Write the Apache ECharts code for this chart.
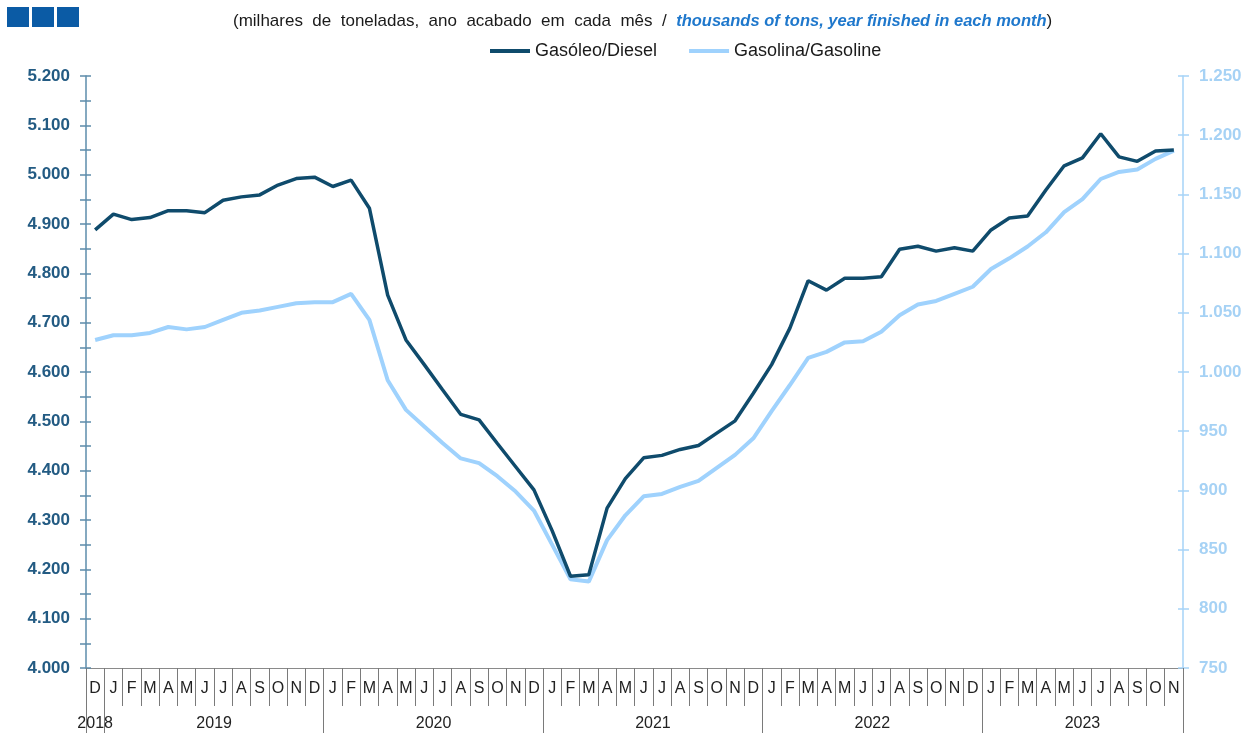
<!DOCTYPE html>
<html>
<head>
<meta charset="utf-8">
<script src="https://cdn.jsdelivr.net/npm/echarts@6/dist/echarts.min.js"></script>
<style>
  html, body { margin: 0; padding: 0; background: #fff; }
  #chart { width: 1246px; height: 733px; }
</style>
</head>
<body>
<div id="chart"></div>
<script>
// meses de dez/2018 a nov/2023
const monthLetters = ['D',
  'J', 'F', 'M', 'A', 'M', 'J', 'J', 'A', 'S', 'O', 'N', 'D',
  'J', 'F', 'M', 'A', 'M', 'J', 'J', 'A', 'S', 'O', 'N', 'D',
  'J', 'F', 'M', 'A', 'M', 'J', 'J', 'A', 'S', 'O', 'N', 'D',
  'J', 'F', 'M', 'A', 'M', 'J', 'J', 'A', 'S', 'O', 'N', 'D',
  'J', 'F', 'M', 'A', 'M', 'J', 'J', 'A', 'S', 'O', 'N']
const yearLabels = ['2018', '2019', '2020', '2021', '2022', '2023']
// posição (índice do mês) onde cada ano é escrito
const yearLabelIdx = [0, 7, 19, 31, 43, 54]

// Gasóleo/Diesel (eixo esquerdo)
const diesel = [4888,
  4920, 4909, 4913, 4927, 4927, 4923, 4948, 4955, 4959, 4979, 4992, 4995,
  4976, 4989, 4932, 4756, 4665, 4615, 4564, 4514, 4503, 4455, 4408, 4361,
  4278, 4186, 4189, 4324, 4384, 4426, 4431, 4443, 4451, 4476, 4501, 4557,
  4615, 4689, 4785, 4766, 4790, 4790, 4793, 4849, 4855, 4845, 4852, 4845,
  4888, 4912, 4916, 4969, 5018, 5034, 5083, 5036, 5027, 5048, 5050]
// Gasolina/Gasoline (eixo direito)
const gasoline = [1027,
  1031, 1031, 1033, 1038, 1036, 1038, 1044, 1050, 1052, 1055, 1058, 1059,
  1059, 1066, 1044, 993, 968, 954, 940, 927, 923, 912, 899, 883,
  854, 825, 823, 858, 879, 895, 897, 903, 908, 919, 930, 944,
  967, 989, 1012, 1017, 1025, 1026, 1034, 1048, 1057, 1060, 1066, 1072,
  1087, 1096, 1106, 1118, 1135, 1146, 1163, 1169, 1171, 1180, 1187]

const categories = monthLetters.map((m, i) => i + '-' + m)

const fmt = v => v >= 1000 ? Math.floor(v / 1000) + '.' + String(v % 1000).padStart(3, '0') : String(v)

const DARK = '#0f4b6c'
const LIGHT = '#9fd2fd'
const FONT = '"Liberation Sans", Arial, sans-serif'

const chart = echarts.init(document.getElementById('chart'))

const option = {
  animation: false,
  textStyle: { fontFamily: FONT },
  title: {
    left: 228,
    top: 8,
    text: '(milhares  de  toneladas,  ano  acabado  em  cada  mês  /  {it|thousands of tons, year finished in each month})',
    textStyle: {
      fontFamily: FONT,
      fontSize: 17,
      fontWeight: 'normal',
      color: '#1a1a1a',
      rich: {
        it: { fontFamily: FONT, fontSize: 16.5, fontStyle: 'italic', fontWeight: 'bold', color: '#1f78cc' }
      }
    }
  },
  graphic: [
    { type: 'rect', shape: { x: 7, y: 7, width: 22, height: 20 }, style: { fill: '#0b5ba5' } },
    { type: 'rect', shape: { x: 32, y: 7, width: 22, height: 20 }, style: { fill: '#0b5ba5' } },
    { type: 'rect', shape: { x: 57, y: 7, width: 22, height: 20 }, style: { fill: '#0b5ba5' } }
  ],
  legend: {
    left: 485,
    top: 37,
    itemWidth: 40,
    itemHeight: 4,
    itemGap: 32,
    icon: 'rect',
    textStyle: { fontFamily: FONT, fontSize: 18, color: '#1a1a1a' },
    data: ['Gasóleo/Diesel', 'Gasolina/Gasoline']
  },
  grid: { left: 86, right: 63, top: 76, bottom: 65, containLabel: false },
  xAxis: [
    {
      type: 'category',
      data: categories,
      boundaryGap: true,
      axisLine: { show: true, lineStyle: { color: '#8a8a8a', width: 1 } },
      axisTick: { show: true, interval: 0, length: 38, lineStyle: { color: '#7a7a7a', width: 1 } },
      axisLabel: {
        interval: 0,
        margin: 13,
        fontFamily: FONT,
        fontSize: 16,
        color: '#222',
        formatter: (v, i) => monthLetters[i]
      }
    },
    {
      type: 'category',
      data: categories,
      position: 'bottom',
      boundaryGap: true,
      axisLine: { show: false },
      axisTick: {
        show: true,
        length: 65,
        interval: (i) => i === 0 || i % 12 === 1,
        lineStyle: { color: '#7a7a7a', width: 1 }
      },
      axisLabel: {
        margin: 48,
        fontFamily: FONT,
        fontSize: 16,
        color: '#222',
        interval: (i) => yearLabelIdx.indexOf(i) >= 0,
        formatter: (v, i) => {
          const k = yearLabelIdx.indexOf(i)
          if (k < 0) return ''
          return (k === 0 || k === yearLabels.length - 1) ? yearLabels[k] : '{s|' + yearLabels[k] + '}'
        },
        rich: {
          s: { fontFamily: FONT, fontSize: 16, color: '#222', padding: [0, 18, 0, 0] }
        }
      }
    }
  ],
  yAxis: [
    {
      type: 'value',
      position: 'left',
      min: 4000,
      max: 5200,
      interval: 50,
      splitLine: { show: false },
      axisLine: { show: true, lineStyle: { color: '#5d8cab', width: 1.5 } },
      axisTick: { show: true, length: 6, lineStyle: { color: '#5d8cab', width: 1.5 } },
      axisLabel: {
        margin: 16,
        fontFamily: FONT,
        fontSize: 17,
        fontWeight: 'bold',
        color: '#235b83',
        formatter: v => v % 100 === 0 ? fmt(v) : ''
      }
    },
    {
      type: 'value',
      position: 'right',
      min: 750,
      max: 1250,
      interval: 50,
      splitLine: { show: false },
      axisLine: { show: true, lineStyle: { color: '#a6d3f7', width: 1.5 } },
      axisTick: { show: true, length: 6, lineStyle: { color: '#a6d3f7', width: 1.5 } },
      axisLabel: {
        margin: 16,
        fontFamily: FONT,
        fontSize: 17,
        fontWeight: 'bold',
        color: '#a6d2f5',
        formatter: v => fmt(v)
      }
    },
    {
      // marcas interiores do eixo esquerdo
      type: 'value',
      position: 'left',
      min: 4000,
      max: 5200,
      interval: 50,
      splitLine: { show: false },
      axisLine: { show: false },
      axisLabel: { show: false },
      axisTick: { show: true, inside: true, length: 5, lineStyle: { color: '#5d8cab', width: 1.5 } }
    },
    {
      // marcas interiores do eixo direito
      type: 'value',
      position: 'right',
      min: 750,
      max: 1250,
      interval: 50,
      splitLine: { show: false },
      axisLine: { show: false },
      axisLabel: { show: false },
      axisTick: { show: true, inside: true, length: 5, lineStyle: { color: '#a6d3f7', width: 1.5 } }
    }
  ],
  series: [
    {
      name: 'Gasolina/Gasoline',
      type: 'line',
      xAxisIndex: 0,
      yAxisIndex: 1,
      data: gasoline,
      showSymbol: false,
      symbol: 'none',
      itemStyle: { color: LIGHT },
      lineStyle: { color: LIGHT, width: 4 },
      z: 2
    },
    {
      name: 'Gasóleo/Diesel',
      type: 'line',
      xAxisIndex: 0,
      yAxisIndex: 0,
      data: diesel,
      showSymbol: false,
      symbol: 'none',
      itemStyle: { color: DARK },
      lineStyle: { color: DARK, width: 3.5 },
      z: 3
    }
  ]
}

chart.setOption(option)
</script>
</body>
</html>
